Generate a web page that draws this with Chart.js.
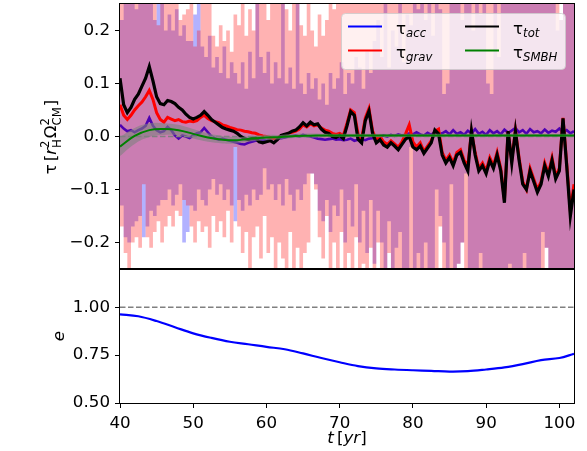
<!DOCTYPE html>
<html>
<head>
<meta charset="utf-8">
<script src="https://cdn.jsdelivr.net/npm/chart.js@4.4.0/dist/chart.umd.min.js"></script>
<style>
  html, body { margin: 0; padding: 0; background: #fff; }
  #wrap { position: relative; width: 587px; height: 451px; }
  canvas { position: absolute; left: 0; }
</style>
</head>
<body>
<div id="wrap">
  <canvas id="grafTorque" width="587" height="280" style="top:0"></canvas>
  <canvas id="grafEcc" width="587" height="189" style="top:262px"></canvas>
</div>
<script>
// ---------- datos ----------
// bandas crudas, bins de 0.5 yr desde t=40 (limites de tau_grav y tau_acc)
const gravHi = [
  .30,.30,.30,.30,.30,.30,.30,.30,.30,.30,
  .30,.21,.30,.30,.30,.26,.30,.22,.23,.24,
  .30,.17,.20,.25,.30,.27,.19,.17,.21,.18,
  .20,.16,.23,.21,.25,.19,.24,.20,.30,.27,
  .30,.22,.30,.26,.30,.30,.24,.20,.27,.30,
  .21,.19,.25,.20,.17,.23,.19,.22,.30,.24,
  .30,.28,.30,.25,.30,.30,.27,.30,.30,.30,
  .30,.30,.30,.30,.30,.30,.30,.30,.30,.30,
  .30,.30,.30,.30,.30,.30,.30,.30,.30,.30,
  .30,.30,.30,.30,.30,.30,.30,.30,.30,.30,
  .30,.30,.30,.30,.30,.30,.30,.30,.30,.30,
  .30,.30,.30,.30,.30,.30,.30,.30,.30,.30,.30,.22,.30,.30
];
const accHi = [
  .30,.22,.30,.26,.30,.24,.30,.30,.27,.30,
  .22,.30,.30,.20,.23,.20,.24,.19,.21,.18,
  .18,.23,.25,.17,.15,.19,.13,.15,.12,.17,
  .11,.14,.12,.10,.14,.09,.16,.11,.30,.15,
  .12,.16,.10,.14,.11,.30,.10,.13,.09,.28,
  .10,.08,.12,.09,.11,.07,.10,.06,.12,.09,
  .11,.14,.08,.12,.10,.15,.13,.09,.16,.12,
  .18,.22,.15,.25,.13,.20,.17,.30,.14,.23,
  .21,.30,.24,.30,.22,.30,.19,.30,.24,.08,
  .10,.30,.25,.30,.22,.30,.30,.20,.30,.23,
  .30,.10,.08,.30,.15,.30,.30,.26,.30,.30,
  .30,.30,.30,.30,.30,.30,.30,.30,.30,.30,.20,.22,.30,.30
];
const gravLo = [
  -.30,-.17,-.22,-.25,-.20,-.19,-.21,-.09,-.19,-.21,
  -.18,-.16,-.20,-.17,-.15,-.17,-.14,-.15,-.12,-.13,
  -.17,-.20,-.16,-.18,-.17,-.21,-.15,-.18,-.16,-.19,
  -.14,-.20,-.02,-.17,-.22,-.18,-.25,-.19,-.17,-.23,
  -.15,-.22,-.19,-.25,-.20,-.23,-.30,-.18,-.25,-.21,
  -.30,-.22,-.20,-.07,-.10,-.19,-.23,-.15,-.25,-.20,
  -.26,-.18,-.30,-.22,-.30,-.19,-.30,-.24,-.30,-.21,
  -.30,-.20,-.30,-.30,-.22,-.30,-.30,-.26,-.30,-.30,
  -.30,-.30,-.30,-.30,-.27,-.30,-.30,-.30,-.17,-.30,
  -.30,-.30,-.30,-.24,-.20,-.30,-.30,-.30,-.30,-.28,
  -.30,-.30,-.30,-.30,-.30,-.30,-.30,-.30,-.30,-.30,
  -.30,-.30,-.30,-.26,-.30,-.30,-.30,-.21,-.30,-.30,-.30,-.30,-.30,-.30
];
const accLo = [
  -.30,-.13,-.19,-.20,-.17,-.16,-.15,-.19,-.17,-.14,
  -.15,-.13,-.12,-.12,-.10,-.13,-.11,-.09,-.20,-.18,
  -.13,-.14,-.10,-.12,-.13,-.10,-.08,-.11,-.09,-.12,
  -.10,-.13,-.16,-.12,-.14,-.11,-.13,-.10,-.12,-.11,
  -.06,-.10,-.09,-.12,-.09,-.13,-.08,-.11,-.14,-.10,
  -.12,-.09,-.07,-.07,-.09,-.14,-.16,-.12,-.18,-.13,
  -.15,-.10,-.20,-.12,-.17,-.09,-.20,-.14,-.22,-.12,
  -.24,-.14,-.20,-.25,-.16,-.30,-.21,-.18,-.25,-.30,
  -.02,-.30,-.22,-.30,-.20,-.30,-.25,-.10,-.15,-.20,
  -.30,-.09,-.30,-.24,-.20,-.07,-.30,-.26,-.30,-.22,
  -.30,-.25,-.30,-.30,-.27,-.30,-.30,-.24,-.30,-.30,
  -.30,-.22,-.30,-.26,-.30,-.30,-.18,-.21,-.30,-.30,-.30,-.30,-.30,-.30
];

// curvas suavizadas, cada 0.5 yr desde t=40 hasta t=102
const tauAcc = [
  .022,.015,.010,.012,.008,.012,.015,.020,.035,.020,
  .012,.008,.010,.018,.012,.002,-.004,.002,.000,-.003,
  .002,.006,.008,.016,.008,.000,-.004,-.006,-.004,-.006,
  -.008,-.010,-.012,-.014,-.015,-.012,-.010,-.008,-.007,-.006,
  -.008,-.006,-.004,-.005,-.003,-.002,.000,.001,.002,.000,
  .003,.001,.000,-.002,-.004,-.005,-.006,-.005,-.004,-.006,
  -.005,-.007,-.006,-.004,-.008,-.006,-.005,-.007,-.004,-.003,
  -.002,.000,.002,.000,.003,.001,.004,.002,.003,.006,
  .004,.008,.004,.002,.007,.003,.009,.004,.006,.010,
  .004,.012,.005,.008,.003,.011,.006,.014,.005,.009,
  .003,.012,.006,.010,.004,.013,.007,.011,.016,.008,
  .012,.005,.014,.008,.010,.006,.013,.007,.011,.009,
  .015,.008,.012,.006,.010
];
const tauGrav = [
  .060,.040,.032,.040,.050,.058,.065,.075,.087,.070,
  .045,.032,.027,.036,.033,.030,.032,.028,.027,.029,
  .028,.030,.036,.040,.034,.030,.028,.026,.022,.020,
  .017,.015,.013,.012,.010,.009,.007,.006,.003,.001,
  .000,-.002,-.004,-.002,.001,.003,.006,.008,.010,.014,
  .022,.018,.024,.020,.022,.016,.012,.010,.006,.004,
  .006,.002,.025,.050,.045,.005,-.004,.035,.053,.010,
  -.006,.000,-.010,-.015,-.008,-.014,-.020,-.010,.005,.022,
  -.010,-.020,-.012,-.028,-.018,-.008,.010,.014,-.030,-.045,
  -.035,-.050,-.030,-.025,-.045,-.055,.008,-.030,-.060,-.050,
  -.065,-.040,-.055,-.030,-.060,-.120,.010,-.045,.012,-.040,
  -.085,-.100,-.060,-.080,-.100,-.085,-.050,-.070,-.040,-.075,
  -.060,.035,-.050,-.140,-.090
];
const tauTot = [
  .110,.060,.045,.055,.070,.080,.095,.110,.132,.105,
  .075,.062,.060,.068,.066,.062,.055,.050,.042,.036,
  .033,.036,.040,.047,.040,.032,.027,.022,.017,.014,
  .012,.010,.006,.000,-.004,-.006,-.004,-.003,-.010,-.012,
  -.010,-.008,-.012,-.006,.002,.004,.006,.010,.012,.018,
  .026,.020,.027,.022,.024,.014,.008,.006,.000,-.002,
  .002,-.004,.020,.047,.040,-.005,-.012,.030,.048,.005,
  -.012,-.006,-.016,-.020,-.012,-.018,-.025,-.015,-.005,.000,
  -.020,-.025,-.018,-.032,-.022,-.012,.012,.005,-.035,-.050,
  -.040,-.055,-.035,-.030,-.050,-.065,.010,-.035,-.065,-.055,
  -.070,-.045,-.060,-.035,-.065,-.125,.010,-.050,.010,-.045,
  -.090,-.100,-.065,-.085,-.105,-.090,-.055,-.075,-.045,-.080,
  -.065,.034,-.055,-.150,-.100
];

// torque del SMBH, cada 2 yr desde t=40
const tauSmbh = [
  -.019,.001,.012,.014,.012,.005,-.002,-.006,-.007,-.004,
  -.002,-.001,.001,.0015,.002,.002,.002,.002,.002,.002,
  .002,.002,.002,.002,.002,.002,.002,.002,.002,.002,.002,.002
];
const smbhErr = [
  .018,.015,.013,.011,.010,.009,.008,.007,.006,.005,
  .005,.004,.004,.004,.003,.003,.003,.003,.003,.003,
  .003,.003,.003,.003,.003,.003,.003,.003,.003,.003,.003,.003
];

// excentricidad
const tEcc = [40, 42.5, 45, 47.5, 50, 52.5, 55, 57.5, 60, 62.5, 65, 67.5, 70,
              72.5, 75, 77.5, 80, 82.5, 85, 87.5, 90, 92.5, 95, 97.5, 100, 102];
const ecc = [0.963, 0.953, 0.928, 0.896, 0.864, 0.840, 0.820, 0.807, 0.793, 0.781,
             0.759, 0.735, 0.713, 0.693, 0.681, 0.675, 0.671, 0.668, 0.664, 0.666,
             0.675, 0.686, 0.703, 0.724, 0.735, 0.757];

const tauTicks = [-0.2, -0.1, 0.0, 0.1, 0.2];
const eTicks = [0.5, 0.75, 1.0];
const tTicks = [40, 50, 60, 70, 80, 90, 100];
const T_MIN = 40, T_MAX = 102;
const tauRef = 0.0, eRef = 1.0;

// ---------- helpers ----------
const FAM = "'DejaVu Sans', sans-serif";
const BIG = 16.7, SMALL = 11.7;
Chart.defaults.font.family = FAM;
Chart.defaults.font.size = BIG;
Chart.defaults.color = '#000';

const binX = i => T_MIN + 0.5 * i;
const lineX = i => T_MIN + 0.5 * i;
const smbhX = i => T_MIN + 2 * i;

// escalon: cada bin desde su inicio hasta el siguiente, cerrado en T_MAX
const escalon = arr => arr.map((v, i) => ({ x: binX(i), y: v }))
                          .concat([{ x: T_MAX, y: arr[arr.length - 1] }]);
const serie = arr => arr.map((v, i) => ({ x: lineX(i), y: v }));
const smbhPts = (k) => tauSmbh.map((v, i) => ({ x: smbhX(i), y: v + k * smbhErr[i] }));
const refLine = v => [{ x: T_MIN, y: v }, { x: T_MAX, y: v }];

function fontOf(size, italic) {
  return (italic ? 'italic ' : '') + size + 'px ' + FAM;
}

function anchoMath(ctx, parts) {
  let w = 0;
  parts.forEach(p => {
    if (p.gap) w += p.gap;
    else if (p.t) { ctx.font = fontOf(BIG, p.i); w += ctx.measureText(p.t).width; }
    else {
      ctx.font = fontOf(SMALL, p.si);
      const a = p.sub ? ctx.measureText(p.sub).width : 0;
      const b = p.sup ? ctx.measureText(p.sup).width : 0;
      w += Math.max(a, b) + 1;
    }
  });
  return w;
}

function dibujarMath(ctx, parts, x, y, rotar, centrar) {
  ctx.save();
  ctx.translate(x, y);
  if (rotar) ctx.rotate(-Math.PI / 2);
  ctx.textBaseline = 'alphabetic';
  ctx.textAlign = 'left';
  ctx.fillStyle = '#000';
  let cx = centrar ? -anchoMath(ctx, parts) / 2 : 0;
  parts.forEach(p => {
    if (p.gap) { cx += p.gap; return; }
    if (p.t) {
      ctx.font = fontOf(BIG, p.i);
      ctx.fillText(p.t, cx, 0);
      cx += ctx.measureText(p.t).width;
      return;
    }
    ctx.font = fontOf(SMALL, p.si);
    let w = 0;
    if (p.sub) {
      ctx.fillText(p.sub, cx, p.dy !== undefined ? p.dy : 4);
      w = ctx.measureText(p.sub).width;
    }
    if (p.sup) {
      ctx.fillText(p.sup, cx, -7);
      w = Math.max(w, ctx.measureText(p.sup).width);
    }
    cx += w + 1;
  });
  ctx.restore();
}

const marco = {
  id: 'marco',
  afterDraw(chart) {
    const { ctx, chartArea: a } = chart;
    ctx.save();
    ctx.strokeStyle = '#000';
    ctx.lineWidth = 1;
    ctx.strokeRect(Math.round(a.left) - 0.5, Math.round(a.top) - 0.5,
                   Math.round(a.right - a.left) + 1, Math.round(a.bottom - a.top) + 1);
    ctx.restore();
  }
};

// sin relleno extra de Chart.js alrededor de las etiquetas de los extremos
const ajusteY = s => { s.width = 120; s.paddingTop = 0; s.paddingBottom = 0; };
const ajusteX = s => { s.height = 48; s.paddingLeft = 0; s.paddingRight = 0; };

const fmtTau = v => (v < 0 ? '\u2212' : '') + Math.abs(v).toFixed(1);

// ---------- panel superior: torques ----------
const etiquetasTorque = {
  id: 'etiquetasTorque',
  afterDraw(chart) {
    const ctx = chart.ctx;
    // eje y
    dibujarMath(ctx, [
      { t: '\u03c4' }, { gap: 3 }, { t: '[' }, { t: 'r', i: true },
      { sub: 'H', sup: '2', dy: 5 }, { t: '\u03a9' }, { sub: 'CM', sup: '2', dy: 5 }, { t: ']' }
    ], 56, 137, true, true);

    // leyenda
    ctx.save();
    ctx.fillStyle = 'rgba(255,255,255,0.8)';
    ctx.strokeStyle = 'rgba(204,204,204,0.8)';
    ctx.lineWidth = 1;
    ctx.beginPath();
    ctx.roundRect(341.5, 13.5, 224, 56, 4);
    ctx.fill();
    ctx.stroke();
    const items = [
      { c: '#0000ff', s: 'acc', x: 348, y: 26.5 },
      { c: '#ff0000', s: 'grav', x: 348, y: 50.5 },
      { c: '#000000', s: 'tot', x: 465, y: 26.5 },
      { c: '#008000', s: 'SMBH', x: 465, y: 50.5 }
    ];
    items.forEach(it => {
      ctx.strokeStyle = it.c;
      ctx.lineWidth = 2;
      ctx.beginPath();
      ctx.moveTo(it.x, it.y);
      ctx.lineTo(it.x + 34, it.y);
      ctx.stroke();
      dibujarMath(ctx, [{ t: '\u03c4' }, { sub: it.s, si: true, dy: 3 }],
                  it.x + 48, it.y + 7.5, false, false);
    });
    ctx.restore();
  }
};

const bordeNulo = { borderColor: 'transparent', borderWidth: 0, pointRadius: 0,
                    stepped: 'after', clip: 0 };

new Chart(document.getElementById('grafTorque'), {
  type: 'line',
  data: {
    datasets: [
      { data: smbhPts(0), borderColor: '#008000', borderWidth: 2,
        pointRadius: 0, tension: 0.4, order: 1, clip: 0 },
      { data: smbhPts(1), borderColor: 'transparent', borderWidth: 0,
        pointRadius: 0, tension: 0.4, fill: '+1', backgroundColor: 'rgba(128,128,128,0.6)',
        order: 2, clip: 0 },
      { data: smbhPts(-1), borderColor: 'transparent', borderWidth: 0,
        pointRadius: 0, tension: 0.4, fill: false, order: 2, clip: 0 },
      { data: serie(tauTot), borderColor: '#000', borderWidth: 3.2,
        pointRadius: 0, tension: 0, order: 3, clip: 0 },
      { data: refLine(tauRef), borderColor: '#808080', borderWidth: 1.5,
        borderDash: [5.5, 2.5], pointRadius: 0, order: 4, clip: 0 },
      { data: serie(tauGrav), borderColor: '#ff0000', borderWidth: 3,
        pointRadius: 0, tension: 0, order: 5, clip: 0 },
      Object.assign({ data: escalon(gravHi), fill: '+1', backgroundColor: 'rgba(255,0,0,0.3)', order: 6 }, bordeNulo),
      Object.assign({ data: escalon(gravLo), fill: false, order: 6 }, bordeNulo),
      { data: serie(tauAcc), borderColor: '#0000ff', borderWidth: 2.6,
        pointRadius: 0, tension: 0, order: 7, clip: 0 },
      Object.assign({ data: escalon(accHi), fill: '+1', backgroundColor: 'rgba(0,0,255,0.3)', order: 8 }, bordeNulo),
      Object.assign({ data: escalon(accLo), fill: false, order: 8 }, bordeNulo)
    ]
  },
  options: {
    responsive: false,
    animation: false,
    events: [],
    layout: { padding: { top: 4, right: 13, bottom: 11, left: 0 } },
    plugins: { legend: { display: false }, tooltip: { enabled: false } },
    scales: {
      x: { type: 'linear', min: T_MIN, max: T_MAX, offset: false, display: false },
      y: {
        min: -0.25, max: 0.25,
        afterBuildTicks: s => { s.ticks = tauTicks.map(v => ({ value: v })); },
        afterFit: ajusteY,
        ticks: { callback: v => fmtTau(v), padding: 5, color: '#000' },
        grid: { drawOnChartArea: false, tickLength: 5, tickColor: '#000', tickWidth: 1 },
        border: { display: false }
      }
    }
  },
  plugins: [marco, etiquetasTorque]
});

// ---------- panel inferior: excentricidad ----------
const etiquetasEcc = {
  id: 'etiquetasEcc',
  afterDraw(chart) {
    const ctx = chart.ctx;
    dibujarMath(ctx, [{ t: 'e', i: true }], 64, 74, true, true);
    dibujarMath(ctx, [{ t: 't', i: true }, { gap: 3 }, { t: '[' }, { t: 'yr', i: true }, { t: ']' }],
                347, 181, false, true);
  }
};

new Chart(document.getElementById('grafEcc'), {
  type: 'line',
  data: {
    datasets: [
      { data: tEcc.map((t, i) => ({ x: t, y: ecc[i] })), borderColor: '#0000ff',
        borderWidth: 2.2, pointRadius: 0, tension: 0.35, order: 1, clip: 0 },
      { data: refLine(eRef), borderColor: '#808080', borderWidth: 1.5,
        borderDash: [5.5, 2.5], pointRadius: 0, order: 2, clip: 0 }
    ]
  },
  options: {
    responsive: false,
    animation: false,
    events: [],
    layout: { padding: { top: 7, right: 13, bottom: 0, left: 0 } },
    plugins: { legend: { display: false }, tooltip: { enabled: false } },
    scales: {
      x: {
        type: 'linear', min: T_MIN, max: T_MAX,
        afterBuildTicks: s => { s.ticks = tTicks.map(v => ({ value: v })); },
        afterFit: ajusteX,
        ticks: { autoSkip: false, maxRotation: 0, padding: 6, color: '#000' },
        grid: { drawOnChartArea: false, tickLength: 5, tickColor: '#000', tickWidth: 1 },
        border: { display: false }
      },
      y: {
        min: 0.5, max: 1.2,
        afterBuildTicks: s => { s.ticks = eTicks.map(v => ({ value: v })); },
        afterFit: ajusteY,
        ticks: { callback: v => v.toFixed(2), padding: 5, color: '#000' },
        grid: { drawOnChartArea: false, tickLength: 5, tickColor: '#000', tickWidth: 1 },
        border: { display: false }
      }
    }
  },
  plugins: [marco, etiquetasEcc]
});
</script>
</body>
</html>
